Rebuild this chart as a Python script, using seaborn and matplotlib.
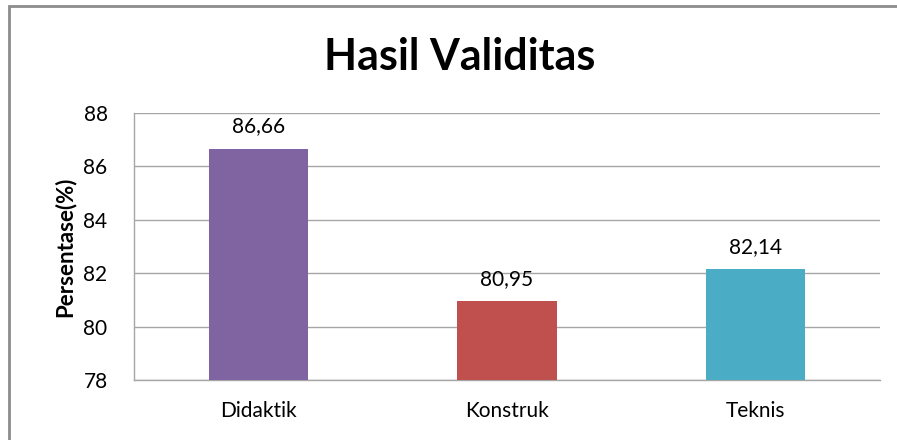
import matplotlib.pyplot as plt
import matplotlib.patches as mpatches
import seaborn as sns
import pandas as pd

# data
categories = ["Didaktik", "Konstruk", "Teknis"]
values = [86.66, 80.95, 82.14]
bar_colors = ["#8064A2", "#C0504D", "#4BACC6"]
y_ticks = [78, 80, 82, 84, 86, 88]

df = pd.DataFrame({"aspek": categories, "persen": values})

sns.set_style("white")
plt.rcParams["font.family"] = ["Lato", "DejaVu Sans"]
plt.rcParams["text.color"] = "black"
plt.rcParams["axes.labelcolor"] = "black"

fig = plt.figure(figsize=(8.97, 4.4), dpi=100)
ax = fig.add_axes([134 / 897, 1 - 380 / 440, (880 - 134) / 897, (380 - 113) / 440])

sns.barplot(data=df, x="aspek", y="persen", hue="aspek", palette=bar_colors,
            width=0.4, saturation=1, linewidth=0, legend=False, ax=ax, zorder=3)

ax.set_ylim(78, 88)
ax.set_yticks(y_ticks)
ax.yaxis.grid(True, color="#a6a6a6", linewidth=1, zorder=0)
ax.set_axisbelow(True)
for s in ["top", "right"]:
    ax.spines[s].set_visible(False)
for s in ["left", "bottom"]:
    ax.spines[s].set_color("#a6a6a6")
    ax.spines[s].set_linewidth(1)
ax.tick_params(axis="both", length=0, labelsize=15, colors="black")
ax.tick_params(axis="y", pad=19)
ax.tick_params(axis="x", pad=15)
ax.set_xlabel("")
ax.set_ylabel("Persentase(%)", fontsize=16, fontweight="bold", labelpad=6)

# value labels with comma decimals
for i, v in enumerate(values):
    ax.annotate(f"{v:.2f}".replace(".", ","), (i, v), xytext=(0, 9),
                textcoords="offset points", ha="center", va="bottom", fontsize=15)

fig.text(460 / 897, 1 - 57 / 440, "Hasil Validitas", ha="center", va="center",
         fontsize=31, fontweight="bold")

# chart frame (only left/top are visible in the crop)
frame = mpatches.Rectangle((9 / 897, -0.1), 1.2, 1 - 6 / 440 + 0.1, transform=fig.transFigure,
                           fill=False, edgecolor="#8c8c8c", linewidth=2)
fig.patches.append(frame)

fig.savefig("out.png", dpi=100)
